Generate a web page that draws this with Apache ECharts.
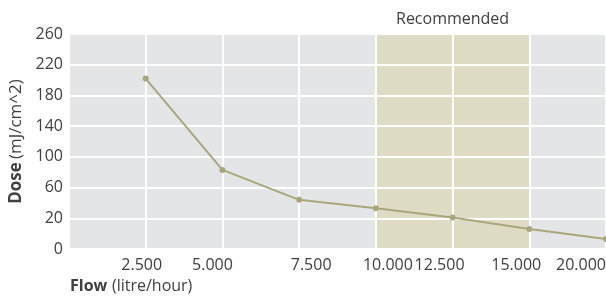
<!DOCTYPE html>
<html>
<head>
<meta charset="utf-8">
<script src="https://cdn.jsdelivr.net/npm/echarts@6/dist/echarts.min.js"></script>
<style>
  html, body { margin: 0; padding: 0; background: #fff; }
  #main { width: 606px; height: 298px; }
</style>
</head>
<body>
<div id="main"></div>
<script>
// flow categories (first slot is empty, it is the left edge of the plot)
var flowLabels = ['', '2.500', '5.000', '7.500', '10.000', '12.500', '15.000', '20.000'];
var doseValues = [null, 202, 83, 44, 33, 21, 6, -7];
var yTicks = [-20, 20, 60, 100, 140, 180, 220, 260];
var yTickLabels = ['0', '20', '60', '100', '140', '180', '220', '260'];
var recommended = ['10.000', '15.000'];

var txt = '#404040';
var font = 'Open Sans';
// label nudges (px) so the x labels sit where the original put them
var labelShift = [0, -4, -10, 12, 12, -13, -13, -25];

var rich = {};
labelShift.forEach(function (s, i) {
  rich['s' + i] = {
    fontFamily: font, fontSize: 16, color: txt,
    padding: s >= 0 ? [0, 0, 0, 2 * s] : [0, -2 * s, 0, 0]
  };
});

var chart = echarts.init(document.getElementById('main'));
chart.setOption({
  animation: false,
  textStyle: { fontFamily: font },
  title: {
    left: 70,
    top: 277,
    padding: 0,
    text: '{b|Flow} {n|(litre/hour)}',
    textStyle: {
      fontWeight: 'normal',
      rich: {
        b: { fontFamily: font, fontWeight: 'bold', fontSize: 16, color: txt },
        n: { fontFamily: font, fontWeight: 'normal', fontSize: 16, color: txt }
      }
    }
  },
  grid: {
    left: 69, right: 0, top: 34, bottom: 49,
    outerBoundsMode: 'none',
    containLabel: false,
    show: true, backgroundColor: '#e4e5e7', borderWidth: 0
  },
  xAxis: {
    type: 'category',
    data: flowLabels,
    boundaryGap: false,
    z: 3,
    axisLine: { show: false },
    axisTick: { show: false },
    axisLabel: {
      color: txt, fontSize: 16, margin: 8, interval: 0, fontFamily: font,
      formatter: function (v, i) { return v ? '{s' + i + '|' + v + '}' : ''; },
      rich: rich
    },
    splitLine: { show: true, lineStyle: { color: '#ffffff', width: 2 } }
  },
  yAxis: {
    type: 'value',
    min: yTicks[0],
    max: yTicks[yTicks.length - 1],
    interval: 40,
    z: 3,
    name: '{b|Dose} {n|(mJ/cm^2)}',
    nameLocation: 'middle',
    nameGap: 35,
    nameTextStyle: {
      rich: {
        b: { fontFamily: font, fontWeight: 'bold', fontSize: 17, color: txt },
        n: { fontFamily: font, fontSize: 17, color: txt }
      }
    },
    axisLine: { show: false },
    axisTick: { show: false },
    axisLabel: {
      color: txt, fontSize: 16, margin: 6, fontFamily: font,
      formatter: function (v) {
        var i = yTicks.indexOf(v);
        return i >= 0 ? yTickLabels[i] : '';
      }
    },
    splitLine: { show: true, lineStyle: { color: '#ffffff', width: 2 } }
  },
  series: [
    {
      type: 'line',
      z: 1,
      data: [],
      markArea: {
        silent: true,
        itemStyle: { color: '#dedcc5' },
        label: { show: true, position: 'top', distance: 7, color: txt, fontSize: 16, fontFamily: font },
        data: [[{ name: 'Recommended', xAxis: recommended[0] }, { xAxis: recommended[1] }]]
      }
    },
    {
      type: 'line',
      z: 5,
      data: doseValues,
      symbol: 'circle',
      symbolSize: 6,
      lineStyle: { color: '#aaa67c', width: 2 },
      itemStyle: { color: '#aaa67c' }
    }
  ]
});
</script>
</body>
</html>
